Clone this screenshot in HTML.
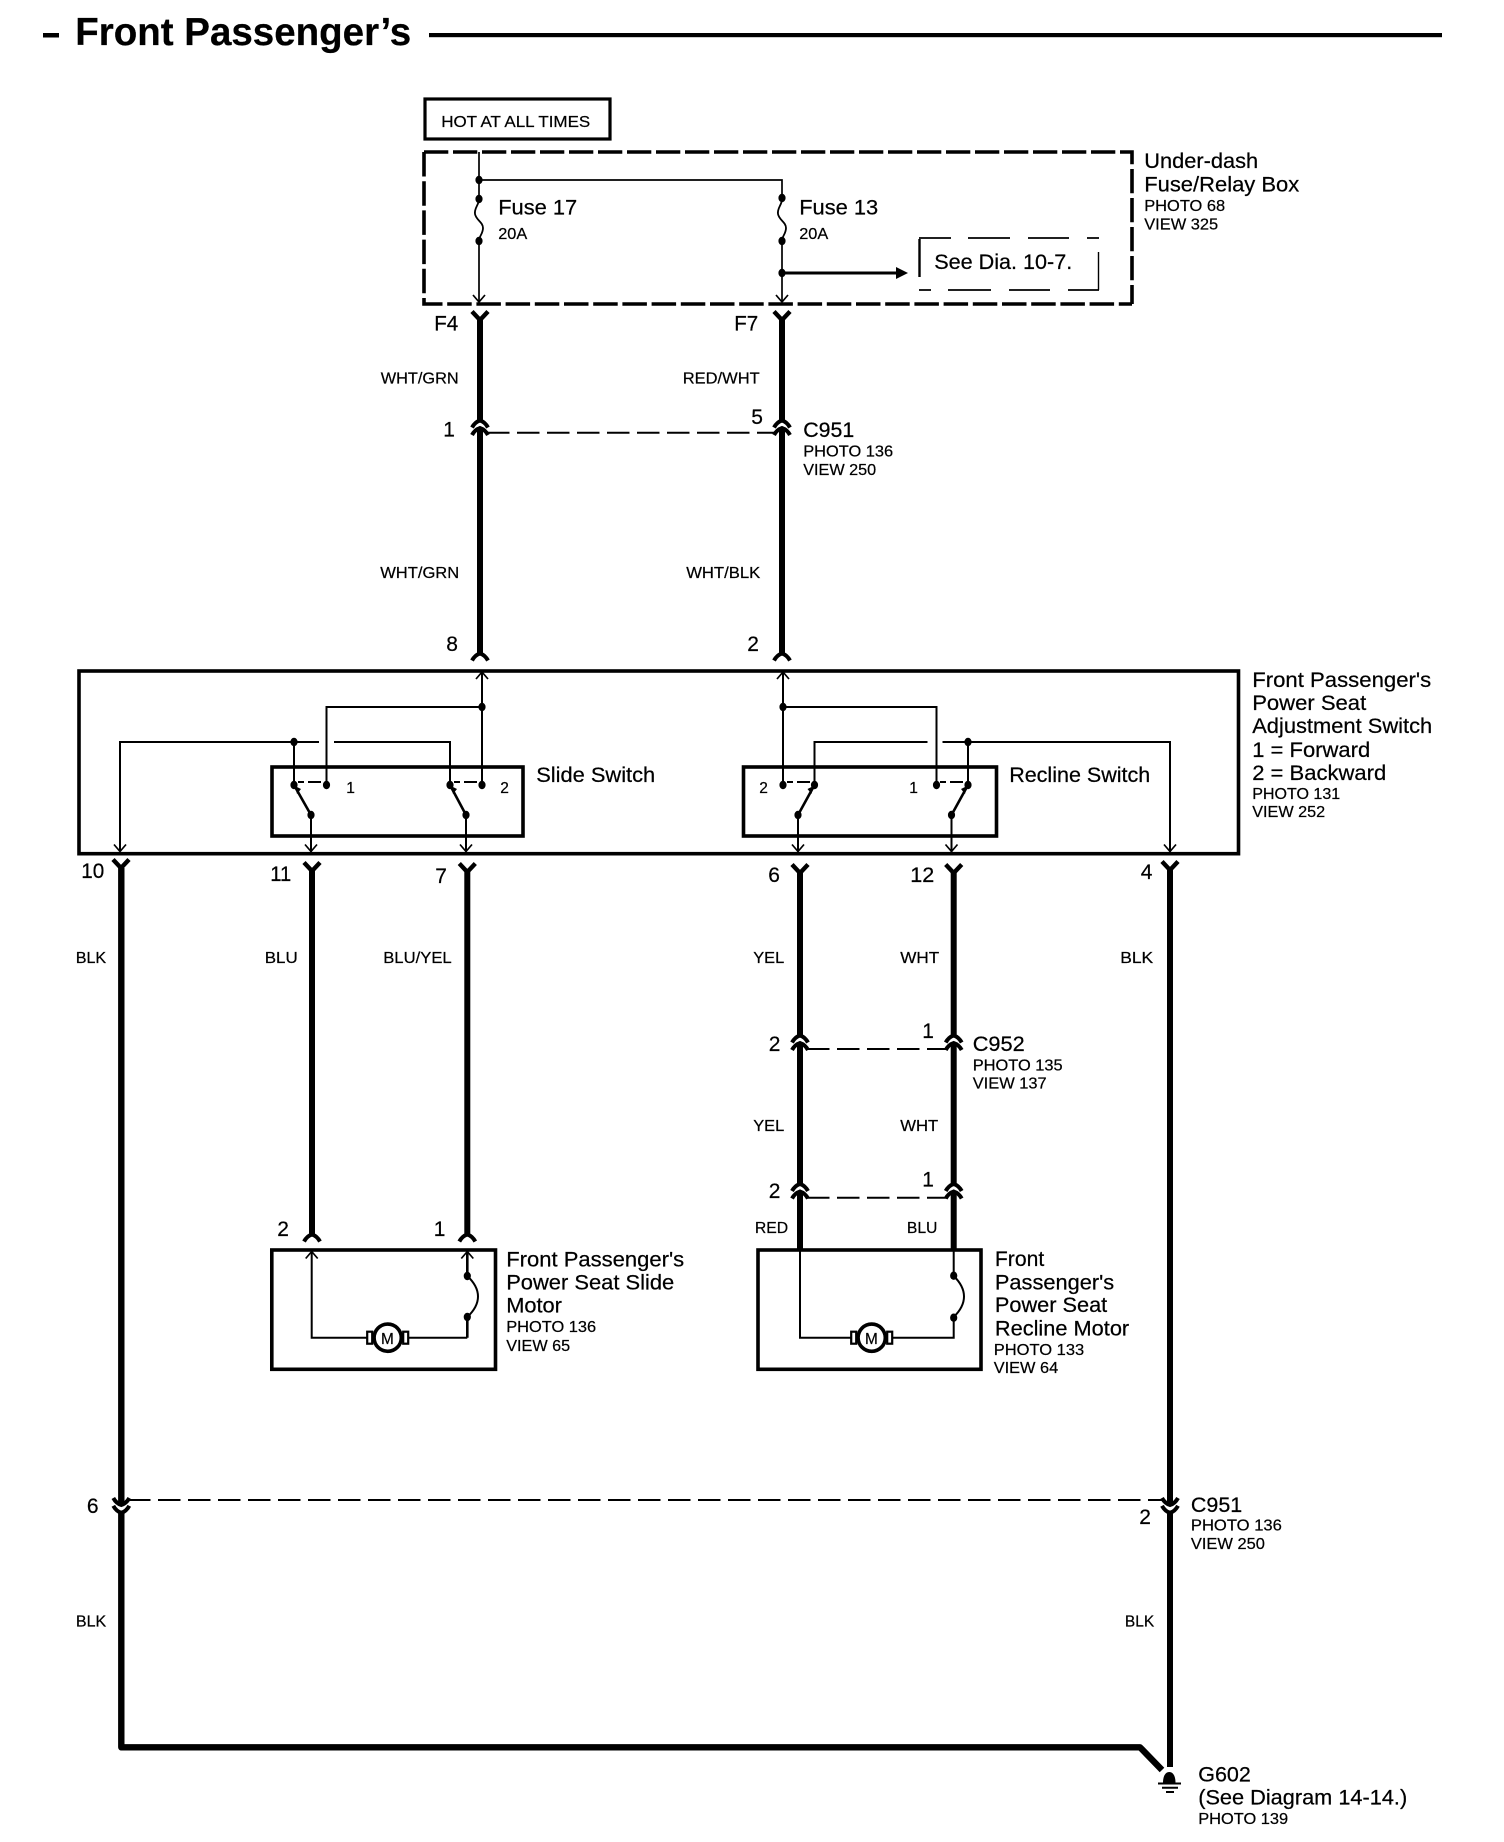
<!DOCTYPE html>
<html><head><meta charset="utf-8"><style>
html,body{margin:0;padding:0;background:#fff}
svg{display:block}
text{font-family:"Liberation Sans",Arial,sans-serif;fill:#000;stroke:#000;stroke-width:.22px;transform:translateX(-.8px)}
.b{font-size:21px}.s{font-size:15.5px}
.th{fill:none;stroke:#000;stroke-width:1.7}
.md{fill:none;stroke:#000;stroke-width:2.6}
.w{fill:none;stroke:#000;stroke-width:6}
.box{fill:none;stroke:#000;stroke-width:3.6}
.dl{fill:none;stroke:#000;stroke-width:2;stroke-dasharray:22.5 7.5}
</style></head><body>
<svg xmlns="http://www.w3.org/2000/svg" width="1504" height="1842" viewBox="0 0 1504 1842">
<defs>
<path id="Y" d="M-8 -8.5L0 0L8 -8.5" fill="none" stroke="#000" stroke-width="4.4"/>
<path id="C" d="M-8 7Q-5 1.5 0 0Q5 1.5 8 7" fill="none" stroke="#000" stroke-width="4"/>
<path id="D" d="M-8 -7Q-5 -1.5 0 0Q5 -1.5 8 -7" fill="none" stroke="#000" stroke-width="4"/>
<path id="A" d="M-6 7L0 0L6 7" fill="none" stroke="#000" stroke-width="1.7"/>
<path id="V" d="M-6 -7L0 0L6 -7" fill="none" stroke="#000" stroke-width="1.7"/>
<ellipse id="o" rx="3.6" ry="4.2" fill="#000"/>
<g id="M"><circle r="13.6" fill="#fff" stroke="#000" stroke-width="3.6"/>
<rect x="-20.5" y="-6" width="5" height="12" fill="#fff" stroke="#000" stroke-width="2.2"/>
<rect x="15.5" y="-6" width="5" height="12" fill="#fff" stroke="#000" stroke-width="2.2"/></g>
<path id="F" d="M0 0C0 6 -5 9 -4 15C-3 21 4 23 4 29C4 35 0 37 0 42" fill="none" stroke="#000" stroke-width="1.8"/>
</defs>
<rect width="1504" height="1842" fill="#fff"/>

<!-- title -->
<rect x="43" y="33" width="16" height="4.5"/>
<text x="76" y="45" font-size="38.5" font-weight="bold" textLength="336" lengthAdjust="spacingAndGlyphs">Front Passenger’s</text>
<rect x="429" y="33" width="1013" height="4.2"/>

<!-- hot -->
<rect x="425" y="99" width="185" height="40" class="box" style="stroke-width:3.2"/>
<text class="s" x="442" y="127" textLength="149" lengthAdjust="spacingAndGlyphs">HOT AT ALL TIMES</text>

<!-- fuse box -->
<path d="M424 152H1132V304" fill="none" stroke="#000" stroke-width="3.6" stroke-dasharray="24.3 4.7"/>
<path d="M424 152V304H1132" fill="none" stroke="#000" stroke-width="3.6" stroke-dasharray="24.5 4.7"/>
<path class="th" d="M479 152V302M479 180H782V302"/>
<use href="#V" x="479" y="302"/><use href="#V" x="782" y="302"/>
<rect x="476" y="200" width="6" height="40" fill="#fff"/><rect x="779" y="200" width="6" height="40" fill="#fff"/>
<use href="#F" x="479" y="199"/><use href="#F" x="782" y="199"/>
<use href="#o" x="479" y="180"/><use href="#o" x="479" y="199"/><use href="#o" x="479" y="241"/>
<use href="#o" x="782" y="198"/><use href="#o" x="782" y="241"/><use href="#o" x="782" y="273"/>
<text class="b" x="499" y="214.5" textLength="79" lengthAdjust="spacingAndGlyphs">Fuse 17</text>
<text class="s" x="499" y="239" textLength="29" lengthAdjust="spacingAndGlyphs">20A</text>
<text class="b" x="800" y="214.5" textLength="79" lengthAdjust="spacingAndGlyphs">Fuse 13</text>
<text class="s" x="800" y="239" textLength="29" lengthAdjust="spacingAndGlyphs">20A</text>
<path d="M782 273H897" fill="none" stroke="#000" stroke-width="3"/>
<path d="M896 267L908 273L896 279Z"/>
<path d="M919 238H951M968 238H1010M1028 238H1069M1087 238H1099M919 290H931M948 290H991M1009 290H1050M1068 290H1099" fill="none" stroke="#000" stroke-width="1.8"/>
<path d="M919.5 239V277" fill="none" stroke="#000" stroke-width="2.4"/>
<path d="M1098.5 252V290" fill="none" stroke="#000" stroke-width="1.4"/>
<text class="b" x="935" y="269" textLength="138" lengthAdjust="spacingAndGlyphs">See Dia. 10-7.</text>
<text class="b" x="1145" y="168" textLength="114" lengthAdjust="spacingAndGlyphs">Under-dash</text>
<text class="b" x="1145" y="191.5" textLength="155" lengthAdjust="spacingAndGlyphs">Fuse/Relay Box</text>
<text class="s" x="1145" y="211" textLength="81" lengthAdjust="spacingAndGlyphs">PHOTO 68</text>
<text class="s" x="1145" y="229.5" textLength="74" lengthAdjust="spacingAndGlyphs">VIEW 325</text>

<!-- upper wires -->
<use href="#Y" x="480" y="320"/><use href="#Y" x="782" y="320"/>
<path class="w" d="M480 320V422M480 429V653M782 320V422M782 429V653"/>
<use href="#C" x="480" y="420.5"/><use href="#C" x="480" y="428"/>
<use href="#C" x="782" y="420.5"/><use href="#C" x="782" y="428"/>
<use href="#C" x="480" y="653.5"/><use href="#C" x="782" y="653.5"/>
<path class="dl" d="M487 432.7H775"/>
<text class="b" x="435" y="330.5" textLength="24" lengthAdjust="spacingAndGlyphs">F4</text>
<text class="b" x="735" y="330.5" textLength="24" lengthAdjust="spacingAndGlyphs">F7</text>
<text class="s" x="381.5" y="383.5" textLength="78" lengthAdjust="spacingAndGlyphs">WHT/GRN</text>
<text class="s" x="683.5" y="383.5" textLength="77" lengthAdjust="spacingAndGlyphs">RED/WHT</text>
<text class="b" x="444" y="436.5">1</text>
<text class="b" x="752" y="424">5</text>
<text class="b" x="804" y="437" textLength="51" lengthAdjust="spacingAndGlyphs">C951</text>
<text class="s" x="804" y="456.5" textLength="90" lengthAdjust="spacingAndGlyphs">PHOTO 136</text>
<text class="s" x="804" y="475" textLength="73" lengthAdjust="spacingAndGlyphs">VIEW 250</text>
<text class="s" x="381" y="578" textLength="79" lengthAdjust="spacingAndGlyphs">WHT/GRN</text>
<text class="s" x="687" y="578" textLength="74" lengthAdjust="spacingAndGlyphs">WHT/BLK</text>
<text class="b" x="447" y="651">8</text>
<text class="b" x="748" y="651">2</text>

<!-- switch assembly -->
<rect x="79" y="671" width="1159.5" height="182.7" class="box"/>
<rect x="272" y="767" width="251" height="69" class="box"/>
<rect x="743.5" y="767" width="253" height="69" class="box"/>
<path class="md" style="stroke-width:2" d="M482 672V785M482 707H326.5V785M120 851V742H319M334 742H450V785M294 742V785M311 815V852M466 815V852"/>
<path class="md" style="stroke-width:2" d="M783 672V785M783 707H936.5V785M814.5 785V742H927.5M942.5 742H1170V852M968 742V785M798 815V852M951.5 815V852"/>
<use href="#A" x="482" y="672"/><use href="#A" x="783" y="672"/>
<use href="#V" x="120" y="851.5"/><use href="#V" x="311" y="851.5"/><use href="#V" x="466" y="851.5"/>
<use href="#V" x="798" y="851.5"/><use href="#V" x="951.5" y="851.5"/><use href="#V" x="1170" y="851.5"/>
<use href="#o" x="482" y="707"/><use href="#o" x="294" y="742"/><use href="#o" x="783" y="707"/><use href="#o" x="968" y="742"/>
<use href="#o" x="294" y="785"/><use href="#o" x="326.5" y="785"/><use href="#o" x="311" y="815"/>
<use href="#o" x="450" y="785"/><use href="#o" x="482" y="785"/><use href="#o" x="466" y="815"/>
<use href="#o" x="783" y="785"/><use href="#o" x="814.5" y="785"/><use href="#o" x="798" y="815"/>
<use href="#o" x="936.5" y="785"/><use href="#o" x="968" y="785"/><use href="#o" x="951.5" y="815"/>
<path d="M298 782H304M308 782H321M454 782H460M464 782H477M787 782H793M797 782H810M940 782H946M950 782H963" fill="none" stroke="#000" stroke-width="2"/>
<path class="md" d="M294 785L311 815M450 785L466 815M814.5 785L798 815M968 785L951.5 815"/>
<path d="M295 786L301 789L297 794ZM451 786L457 789L453 794ZM813.5 786L807.5 789L811.5 794ZM967 786L961 789L965 794Z"/>
<text class="s" x="347" y="793">1</text><text class="s" x="501" y="793">2</text>
<text class="s" x="760" y="793">2</text><text class="s" x="910" y="793">1</text>
<text class="b" x="537" y="782" textLength="119" lengthAdjust="spacingAndGlyphs">Slide Switch</text>
<text class="b" x="1010" y="782" textLength="141" lengthAdjust="spacingAndGlyphs">Recline Switch</text>
<text class="b" x="1253" y="687" textLength="179" lengthAdjust="spacingAndGlyphs">Front Passenger's</text>
<text class="b" x="1253" y="710" textLength="114" lengthAdjust="spacingAndGlyphs">Power Seat</text>
<text class="b" x="1253" y="733" textLength="180" lengthAdjust="spacingAndGlyphs">Adjustment Switch</text>
<text class="b" x="1253" y="757" textLength="118" lengthAdjust="spacingAndGlyphs">1 = Forward</text>
<text class="b" x="1253" y="780" textLength="134" lengthAdjust="spacingAndGlyphs">2 = Backward</text>
<text class="s" x="1253" y="799" textLength="88" lengthAdjust="spacingAndGlyphs">PHOTO 131</text>
<text class="s" x="1253" y="817" textLength="73" lengthAdjust="spacingAndGlyphs">VIEW 252</text>

<!-- lower connectors -->
<use href="#Y" x="121" y="868"/><use href="#Y" x="312" y="871"/><use href="#Y" x="467.3" y="872"/>
<use href="#Y" x="800" y="873"/><use href="#Y" x="953.7" y="873"/><use href="#Y" x="1170" y="870"/>
<text class="b" x="82" y="878" textLength="23" lengthAdjust="spacingAndGlyphs">10</text>
<text class="b" x="271" y="881" textLength="21" lengthAdjust="spacingAndGlyphs">11</text>
<text class="b" x="436" y="883">7</text>
<text class="b" x="769" y="882">6</text>
<text class="b" x="911" y="882" textLength="24" lengthAdjust="spacingAndGlyphs">12</text>
<text class="b" x="1141.5" y="879">4</text>
<text class="s" x="76.5" y="963" textLength="30.5" lengthAdjust="spacingAndGlyphs">BLK</text>
<text class="s" x="265.5" y="963" textLength="33" lengthAdjust="spacingAndGlyphs">BLU</text>
<text class="s" x="384" y="963" textLength="68.5" lengthAdjust="spacingAndGlyphs">BLU/YEL</text>
<text class="s" x="754" y="963" textLength="31" lengthAdjust="spacingAndGlyphs">YEL</text>
<text class="s" x="901" y="963" textLength="39" lengthAdjust="spacingAndGlyphs">WHT</text>
<text class="s" x="1121" y="963" textLength="33" lengthAdjust="spacingAndGlyphs">BLK</text>

<path class="w" d="M312 871V1234M467.3 872V1234M800 873V1036M800 1044V1184M800 1192V1250M953.7 873V1036M953.7 1044V1184M953.7 1192V1250"/>
<use href="#C" x="312" y="1234.5"/><use href="#C" x="467.3" y="1234.5"/>
<use href="#C" x="800" y="1035.5"/><use href="#C" x="800" y="1043"/><use href="#C" x="953.7" y="1035.5"/><use href="#C" x="953.7" y="1043"/>
<use href="#C" x="800" y="1184"/><use href="#C" x="800" y="1191.5"/><use href="#C" x="953.7" y="1184"/><use href="#C" x="953.7" y="1191.5"/>
<path class="dl" d="M807 1049H947M807 1197.7H947"/>
<text class="b" x="769.5" y="1051">2</text><text class="b" x="923" y="1038">1</text>
<text class="b" x="973.5" y="1051" textLength="52" lengthAdjust="spacingAndGlyphs">C952</text>
<text class="s" x="973.5" y="1070.7" textLength="90" lengthAdjust="spacingAndGlyphs">PHOTO 135</text>
<text class="s" x="973.5" y="1088.7" textLength="74" lengthAdjust="spacingAndGlyphs">VIEW 137</text>
<text class="s" x="754" y="1131" textLength="31" lengthAdjust="spacingAndGlyphs">YEL</text>
<text class="s" x="901" y="1131" textLength="38" lengthAdjust="spacingAndGlyphs">WHT</text>
<text class="b" x="769.5" y="1198">2</text><text class="b" x="923" y="1186.7">1</text>
<text class="s" x="755.7" y="1233" textLength="33.3" lengthAdjust="spacingAndGlyphs">RED</text>
<text class="s" x="907.7" y="1233" textLength="30.5" lengthAdjust="spacingAndGlyphs">BLU</text>

<!-- slide motor -->
<rect x="271.8" y="1250" width="223.7" height="119.3" class="box"/>
<path class="th" style="stroke-width:2" d="M311.7 1251V1337.7H467.3"/>
<path class="md" d="M467.3 1251V1276M467.3 1317V1337.7"/>
<path class="md" d="M467.3 1276Q478 1286 478 1296.5Q478 1307 467.3 1317" style="stroke-width:2"/>
<use href="#A" x="311.7" y="1251.5"/><use href="#A" x="467.3" y="1251.5"/>
<use href="#o" x="467.3" y="1276"/><use href="#o" x="467.3" y="1317"/>
<use href="#M" x="387.7" y="1337.7"/>
<text class="s" x="381.8" y="1344" textLength="12.8" lengthAdjust="spacingAndGlyphs">M</text>
<text class="b" x="278" y="1236">2</text><text class="b" x="434.5" y="1236">1</text>
<text class="b" x="507" y="1266.7" textLength="178" lengthAdjust="spacingAndGlyphs">Front Passenger's</text>
<text class="b" x="507" y="1289.3" textLength="168" lengthAdjust="spacingAndGlyphs">Power Seat Slide</text>
<text class="b" x="507" y="1312.7" textLength="55.7" lengthAdjust="spacingAndGlyphs">Motor</text>
<text class="s" x="507" y="1332" textLength="90" lengthAdjust="spacingAndGlyphs">PHOTO 136</text>
<text class="s" x="507" y="1351" textLength="64" lengthAdjust="spacingAndGlyphs">VIEW 65</text>

<!-- recline motor -->
<rect x="758" y="1250" width="223" height="119.3" class="box"/>
<path class="th" style="stroke-width:2" d="M800 1250V1337.7H953.7V1317M953.7 1250V1276"/>
<path class="md" d="M953.7 1276Q964 1286 964 1296.5Q964 1307 953.7 1317" style="stroke-width:2"/>
<use href="#o" x="953.7" y="1275.7"/><use href="#o" x="953.7" y="1317.7"/>
<use href="#M" x="871.7" y="1337.7"/>
<text class="s" x="865.8" y="1344" textLength="12.8" lengthAdjust="spacingAndGlyphs">M</text>
<text class="b" x="995.7" y="1266" textLength="49.3" lengthAdjust="spacingAndGlyphs">Front</text>
<text class="b" x="995.7" y="1289.3" textLength="119.3" lengthAdjust="spacingAndGlyphs">Passenger's</text>
<text class="b" x="995.7" y="1312" textLength="112.3" lengthAdjust="spacingAndGlyphs">Power Seat</text>
<text class="b" x="995.7" y="1335.3" textLength="134.3" lengthAdjust="spacingAndGlyphs">Recline Motor</text>
<text class="s" x="994.5" y="1355" textLength="90.5" lengthAdjust="spacingAndGlyphs">PHOTO 133</text>
<text class="s" x="994.5" y="1373" textLength="64.5" lengthAdjust="spacingAndGlyphs">VIEW 64</text>

<!-- ground run -->
<path class="w" d="M1170 870V1505M1170 1512V1767"/>
<path fill="none" stroke="#000" stroke-width="6.4" stroke-linejoin="round" d="M121.3 868V1505M121.3 1512V1747.3H1140L1162 1770"/>
<use href="#D" x="121.3" y="1505"/><use href="#D" x="121.3" y="1512.8"/>
<use href="#D" x="1170" y="1505"/><use href="#D" x="1170" y="1512.8"/>
<path class="dl" d="M128 1500H1163"/>
<text class="b" x="87.7" y="1513">6</text>
<text class="b" x="1140" y="1524">2</text>
<text class="b" x="1191.7" y="1512" textLength="51.3" lengthAdjust="spacingAndGlyphs">C951</text>
<text class="s" x="1191.7" y="1530.7" textLength="91" lengthAdjust="spacingAndGlyphs">PHOTO 136</text>
<text class="s" x="1191.7" y="1549" textLength="74" lengthAdjust="spacingAndGlyphs">VIEW 250</text>
<text class="s" x="76.7" y="1626.7" textLength="30.3" lengthAdjust="spacingAndGlyphs">BLK</text>
<text class="s" x="1125.7" y="1626.7" textLength="29.3" lengthAdjust="spacingAndGlyphs">BLK</text>
<path d="M1163 1783C1163 1775 1166 1772 1169.3 1772C1172.5 1772 1175.5 1775 1175.5 1783Z"/>
<path d="M1158 1783.5H1181M1162 1787.8H1178M1166 1792H1174" fill="none" stroke="#000" stroke-width="2"/>
<text class="b" x="1199" y="1781.7" textLength="52.7" lengthAdjust="spacingAndGlyphs">G602</text>
<text class="b" x="1199" y="1804.5" textLength="209" lengthAdjust="spacingAndGlyphs">(See Diagram 14-14.)</text>
<text class="s" x="1199" y="1824" textLength="90" lengthAdjust="spacingAndGlyphs">PHOTO 139</text>
</svg>
</body></html>
